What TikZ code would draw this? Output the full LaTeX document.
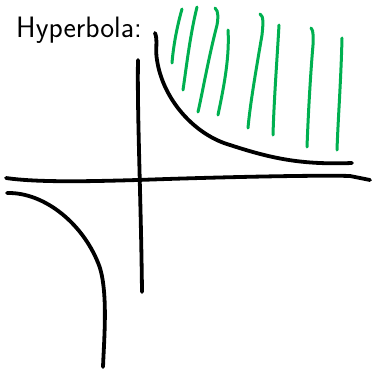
\documentclass[tikz,border=0pt]{standalone}
\definecolor{hatch}{RGB}{0,176,80}
\begin{document}
\begin{tikzpicture}[x=1pt,y=-1pt,
  ink/.style={line width=3.8pt,line cap=round,line join=round,black},
  hatchline/.style={line width=3pt,line cap=round,hatch}]
\useasboundingbox (0,0) rectangle (372,369);
\node[anchor=base west,inner sep=0pt,font=\sffamily\fontsize{29.5}{34}\selectfont] (title) at (16,37.5) {Hyperbola:};
% axes
\draw[ink] (138,60) .. controls (137,110) and (141,200) .. (142,292);
\draw[ink] (6,178) .. controls (40,183) and (100,181) .. (138,180)
  .. controls (220,177) and (320,175) .. (350,176) -- (370,180);
% hyperbola branches
\draw[ink] (155,33) .. controls (158,40) and (155,50) .. (157,60)
  .. controls (163,100) and (195,135) .. (230,145)
  .. controls (270,158) and (300,165) .. (352,163);
\draw[ink] (7,193) .. controls (45,192) and (85,225) .. (100,268)
  .. controls (108,295) and (104,340) .. (103,367);
% hatching
\draw[hatchline] (182,9) .. controls (176,30) and (173,50) .. (172,63);
\draw[hatchline] (197,7) .. controls (190,35) and (186,70) .. (183,90);
\draw[hatchline] (215,8) .. controls (219,11) and (218,20) .. (217,25) .. controls (208,60) and (202,95) .. (198,112);
\draw[hatchline] (228,30) .. controls (230,60) and (222,95) .. (218,115);
\draw[hatchline] (260,14) .. controls (264,16) and (263,25) .. (262,35) .. controls (256,70) and (250,105) .. (248,128);
\draw[hatchline] (279,25) .. controls (277,60) and (274,100) .. (273,135);
\draw[hatchline] (311,28) .. controls (314,30) and (313,40) .. (313,45) .. controls (310,80) and (308,120) .. (307,147);
\draw[hatchline] (342,38) .. controls (341,80) and (338,120) .. (337,150);
\end{tikzpicture}
\end{document}
